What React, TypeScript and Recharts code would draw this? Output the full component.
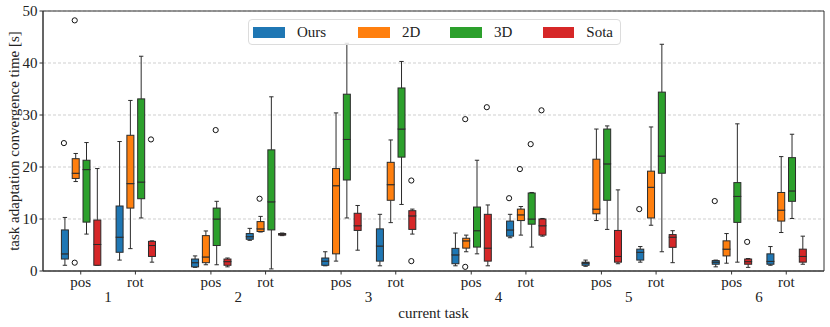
import React from 'react';
import {
  ComposedChart,
  Bar,
  Scatter,
  XAxis,
  YAxis,
  CartesianGrid,
  ReferenceArea,
  Legend,
} from 'recharts';

const GROUPS = [1, 2, 3, 4, 5, 6];
const TASKS = ['pos', 'rot'];
const MODELS = ['Ours', '2D', '3D', 'Sota'];
const COLORS = ['#1f77b4', '#ff7f0e', '#2ca02c', '#d62728'];
const Y_TICKS = [0, 10, 20, 30, 40, 50];

// [whisker low, q1, median, q3, whisker high] per task: 1-pos, 1-rot, 2-pos, ... 6-rot
const OURS = [
  [1.1, 2.3, 3.3, 7.9, 10.3],
  [2.1, 3.6, 6.5, 12.5, 24.9],
  [0.7, 0.8, 1.6, 2.3, 2.9],
  [5.9, 6.1, 6.6, 7.2, 8.2],
  [1.0, 1.1, 1.9, 2.5, 3.7],
  [1.0, 1.9, 4.8, 8.1, 10.9],
  [1.0, 1.4, 3.1, 4.35, 7.3],
  [6.4, 6.7, 7.9, 9.6, 10.9],
  [0.9, 1.1, 1.5, 1.7, 2.1],
  [1.7, 2.1, 3.6, 4.2, 4.7],
  [0.8, 1.3, 1.7, 2.0, 2.1],
  [1.1, 1.3, 1.85, 3.3, 4.7],
];
const TWO_D = [
  [17.2, 17.8, 18.8, 21.6, 22.6],
  [4.3, 12.1, 16.8, 26.1, 32.8],
  [1.2, 1.6, 2.7, 6.8, 7.7],
  [7.5, 7.6, 8.1, 9.5, 10.5],
  [1.9, 3.3, 16.4, 19.7, 30.4],
  [9.3, 13.6, 16.6, 20.9, 25.2],
  [3.7, 4.4, 5.8, 6.3, 6.9],
  [6.9, 9.7, 10.8, 11.9, 12.4],
  [9.7, 11.0, 11.9, 21.5, 27.3],
  [8.8, 10.2, 16.1, 19.2, 27.7],
  [1.5, 2.9, 4.2, 5.8, 7.2],
  [7.4, 9.6, 11.7, 15.1, 22.0],
];
const THREE_D = [
  [7.1, 9.4, 19.5, 21.3, 24.7],
  [10.2, 13.9, 17.1, 33.1, 41.3],
  [1.2, 4.9, 10.0, 12.1, 13.4],
  [0.4, 7.9, 13.3, 23.3, 33.5],
  [10.2, 17.5, 25.3, 34.0, 43.8],
  [12.8, 21.9, 27.3, 35.2, 40.3],
  [3.3, 4.6, 7.75, 12.3, 21.3],
  [4.6, 9.0, 10.0, 15.0, 15.1],
  [8.0, 13.6, 20.6, 27.3, 27.9],
  [3.7, 18.8, 22.1, 34.4, 43.6],
  [1.7, 9.35, 14.35, 17.0, 28.3],
  [10.1, 13.4, 15.4, 21.8, 26.3],
];
const SOTA = [
  [1.1, 1.1, 5.1, 9.8, 19.7],
  [1.7, 2.8, 4.9, 5.7, 5.8],
  [0.8, 1.1, 1.8, 2.3, 2.5],
  [6.8, 6.9, 7.1, 7.2, 7.3],
  [4.0, 7.8, 8.7, 11.1, 12.6],
  [7.1, 8.0, 10.6, 11.6, 11.9],
  [1.0, 1.9, 4.4, 10.9, 12.7],
  [6.7, 6.9, 8.7, 10.0, 10.1],
  [1.4, 1.7, 2.8, 7.8, 15.6],
  [1.6, 4.55, 6.5, 7.0, 7.75],
  [0.7, 1.3, 1.8, 2.3, 2.4],
  [1.3, 1.7, 2.8, 4.2, 6.7],
];

// outliers: [task index, value]
const OURS_OUT = [[0, 24.6], [7, 14.0], [9, 11.9], [10, 13.45]];
const TWO_D_OUT = [[0, 48.2], [0, 1.6], [3, 13.9], [6, 29.2], [6, 0.8], [7, 19.6]];
const THREE_D_OUT = [[2, 27.1], [7, 24.4]];
const SOTA_OUT = [[1, 25.3], [5, 17.4], [5, 1.9], [6, 31.5], [7, 30.9], [10, 5.6]];

const SERIES = [OURS, TWO_D, THREE_D, SOTA];
const OUTLIERS = [OURS_OUT, TWO_D_OUT, THREE_D_OUT, SOTA_OUT];

// layout
const W = 830;
const H = 327;
const FONT = '"Liberation Serif", "Times New Roman", serif';
const FS = 15;
const TASK_SHIFT = 0.21;
const BAR_SIZE = 7;
const BAR_GAP = 3.8;
const MODEL_OFFSET = [-0.1293, -0.0463, 0.0366, 0.1196];
const EDGE = '#2b2b2b';

const CLUSTER_X = GROUPS.flatMap((g) => TASKS.map((_, t) => g + (t === 0 ? -TASK_SHIFT : TASK_SHIFT)));

const rows = CLUSTER_X.map((x, i) => {
  const row: any = { x };
  SERIES.forEach((s, m) => {
    const [lo, q1, med, q3, hi] = s[i];
    row[`m${m}_0`] = lo;
    row[`m${m}_1`] = q1 - lo;
    row[`m${m}_2`] = med - q1;
    row[`m${m}_3`] = q3 - med;
    row[`m${m}_4`] = hi - q3;
  });
  return row;
});

const outlierData = OUTLIERS.map((list, m) =>
  list.map(([i, v]) => ({ x: CLUSTER_X[i] + MODEL_OFFSET[m], y: v }))
);

const makeShape = (part: number, color: string) => (props: any) => {
  const { x, y, width, height } = props;
  if (part === 0 || x == null || y == null) return <g />;
  const cx = x + width / 2;
  const cap = width / 3.2;
  if (part === 1) {
    return (
      <g>
        <line x1={cx} x2={cx} y1={y} y2={y + height} stroke={EDGE} />
        <line x1={cx - cap} x2={cx + cap} y1={y + height} y2={y + height} stroke={EDGE} />
      </g>
    );
  }
  if (part === 4) {
    return (
      <g>
        <line x1={cx} x2={cx} y1={y} y2={y + height} stroke={EDGE} />
        <line x1={cx - cap} x2={cx + cap} y1={y} y2={y} stroke={EDGE} />
      </g>
    );
  }
  return <rect x={x} y={y} width={width} height={height} fill={color} stroke={EDGE} strokeWidth={1} />;
};

const Circle = (props: any) => (
  <circle cx={props.cx} cy={props.cy} r={2.6} fill="none" stroke="#111" strokeWidth={1} />
);

const LEGEND_W = [105, 92, 93, 70];

const renderLegend = () => (
  <div
    style={{
      display: 'flex',
      alignItems: 'center',
      height: 26,
      boxSizing: 'border-box',
      paddingLeft: 4,
      border: '1px solid #dcdcdc',
      borderRadius: 4,
      background: 'rgba(255,255,255,0.85)',
      fontFamily: FONT,
      fontSize: FS,
      color: '#222',
    }}
  >
    {MODELS.map((m, i) => (
      <div key={m} style={{ display: 'flex', alignItems: 'center', width: LEGEND_W[i] }}>
        <span style={{ display: 'inline-block', width: 32, height: 11, background: COLORS[i], marginRight: 12 }} />
        <span>{m}</span>
      </div>
    ))}
  </div>
);

export default function App() {
  const tickStyle = { fill: '#222', fontSize: FS, fontFamily: FONT };
  return (
    <div style={{ position: 'absolute', left: 0, top: 0 }}>
      <ComposedChart
        width={W}
        height={H}
        data={rows}
        barSize={BAR_SIZE}
        barGap={BAR_GAP}
        margin={{ top: 11, right: 6, left: 0, bottom: 0 }}
      >
        <CartesianGrid vertical={false} stroke="#cfcfcf" strokeDasharray="3 2" />
        <XAxis
          dataKey="x"
          type="number"
          domain={[0.5, 6.5]}
          ticks={CLUSTER_X}
          interval={0}
          height={20}
          tickSize={3.5}
          tickMargin={2}
          tick={tickStyle}
          tickFormatter={(_v: number, i: number) => TASKS[i % 2]}
          stroke="#333"
        />
        <XAxis
          xAxisId="grp"
          dataKey="x"
          type="number"
          domain={[0.5, 6.5]}
          ticks={GROUPS}
          interval={0}
          height={36}
          axisLine={false}
          tickLine={false}
          tickSize={0}
          tickMargin={0}
          tick={tickStyle}
          label={{ value: 'current task', position: 'insideBottom', offset: 9, style: { fill: '#222', fontSize: FS, fontFamily: FONT } }}
        />
        <XAxis xAxisId="out" dataKey="x" type="number" domain={[0.5, 6.5]} hide />
        <YAxis
          type="number"
          domain={[0, 50]}
          ticks={Y_TICKS}
          interval={0}
          width={43}
          tickSize={3.5}
          tickMargin={2}
          tick={tickStyle}
          stroke="#333"
          label={{
            value: 'task adaptation convergence time [s]',
            angle: -90,
            position: 'insideLeft',
            offset: 14,
            style: { textAnchor: 'middle', fill: '#222', fontSize: FS, fontFamily: FONT },
          }}
        />
        {MODELS.map((m, mi) =>
          [0, 1, 2, 3, 4].map((p) => (
            <Bar
              key={`${m}-${p}`}
              dataKey={`m${mi}_${p}`}
              stackId={m}
              fill={COLORS[mi]}
              shape={makeShape(p, COLORS[mi])}
              isAnimationActive={false}
              legendType="none"
            />
          ))
        )}
        {MODELS.map((m, mi) => (
          <Scatter
            key={`out-${m}`}
            xAxisId="out"
            data={outlierData[mi]}
            dataKey="y"
            shape={Circle}
            isAnimationActive={false}
            legendType="none"
          />
        ))}
        <ReferenceArea x1={0.5} x2={6.5} y1={0} y2={50} fill="none" stroke="#333" strokeWidth={1} />
        <Legend
          layout="horizontal"
          verticalAlign="middle"
          align="center"
          content={renderLegend}
          wrapperStyle={{ left: 248, top: 19, width: 373, height: 26 }}
        />
      </ComposedChart>
    </div>
  );
}
